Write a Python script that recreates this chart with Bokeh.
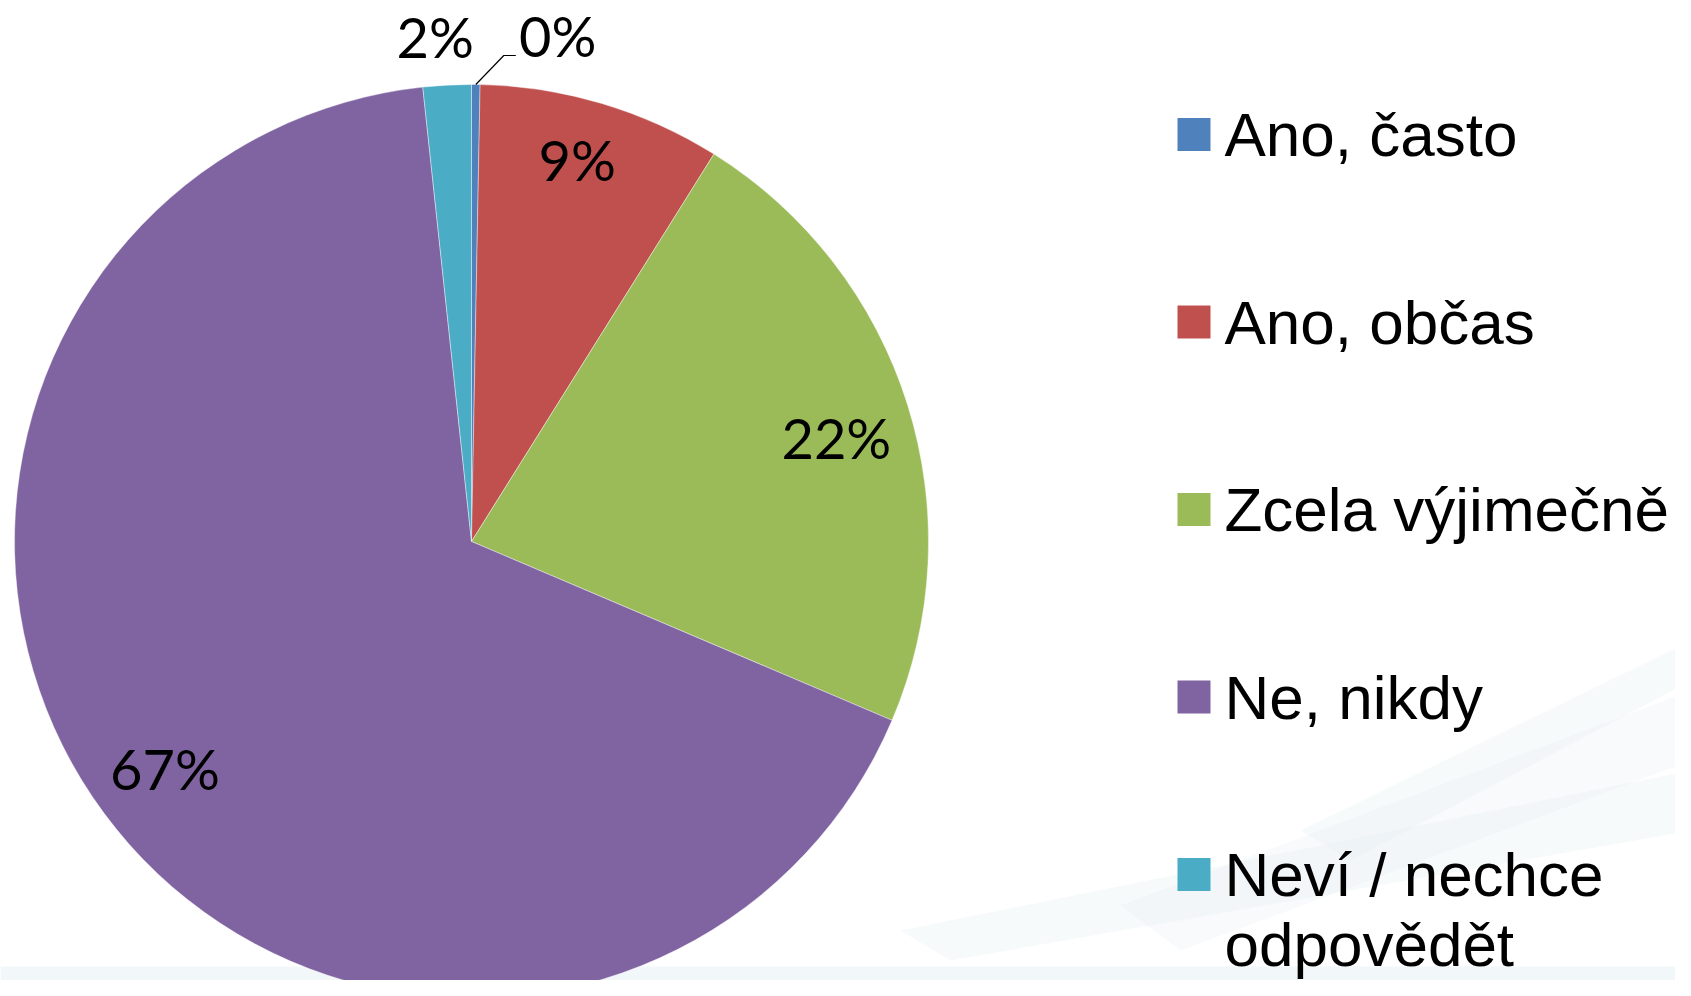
import math
from bokeh.plotting import figure
from bokeh.models import Range1d
from bokeh.core.properties import value
from bokeh.embed import file_html
from bokeh.resources import INLINE

# ---- data ----
categories = ["Ano, často", "Ano, občas", "Zcela výjimečně", "Ne, nikdy", "Neví / nechce\nodpovědět"]
shares = [0.3, 8.6, 22.5, 66.9, 1.7]
pct_labels = ["0%", "9%", "22%", "67%", "2%"]
colors = ["#4F81BD", "#C0504D", "#9BBB59", "#8064A2", "#4BACC6"]

# ---- layout (screen px; data y = 996 - screen y) ----
W, H = 1675, 980
SH = 996
def Y(sy):
    return SH - sy

p = figure(width=W, height=H, x_range=Range1d(0, W), y_range=Range1d(SH - H, SH),
           output_backend="svg", toolbar_location=None, min_border=0)
p.axis.visible = False
p.grid.visible = False
p.outline_line_color = None
p.background_fill_color = "white"
p.border_fill_color = "white"

# faint background decoration (bottom right swooshes and bottom band)
p.patch([1120, 1691, 1691, 1180], [Y(905), Y(690), Y(760), Y(950)], color="#e2ebf0", alpha=0.25, line_color=None)
p.patch([1300, 1691, 1691, 1350], [Y(830), Y(640), Y(680), Y(860)], color="#e6eef2", alpha=0.3, line_color=None)
p.patch([900, 1691, 1691, 950], [Y(930), Y(770), Y(830), Y(960)], color="#e0eaef", alpha=0.25, line_color=None)
p.quad(left=0, right=W, bottom=Y(996), top=Y(966), color="#eaf1f5", alpha=0.6, line_color=None)

# ---- pie ----
cx, cy, R = 471, Y(541), 457
total = sum(shares)
cum = 0.0
starts, ends, mids = [], [], []
for s in shares:
    a0 = math.pi / 2 - 2 * math.pi * cum / total
    a1 = math.pi / 2 - 2 * math.pi * (cum + s) / total
    starts.append(a1)
    ends.append(a0)
    mids.append(math.pi / 2 - 2 * math.pi * (cum + s / 2) / total)
    cum += s

p.wedge(x=[cx] * len(shares), y=[cy] * len(shares), radius=R,
        start_angle=starts, end_angle=ends, direction="anticlock",
        fill_color=colors, line_color="white", line_width=1, line_alpha=0.4)

# ---- data labels (y given at the visual centre of the digits) ----
lab_font = value("Lato")
lab_size = "56px"
inside_r = [None, 0.865, 0.83, 0.835, None]
nudge = [(0, 0), (-7, -3), (3, 10), (0, 0), (0, 0)]
lx, ly, lt = [], [], []
for i, t in enumerate(pct_labels):
    if inside_r[i] is None:
        continue
    r = inside_r[i] * R
    lx.append(cx + r * math.cos(mids[i]) + nudge[i][0])
    ly.append(cy + r * math.sin(mids[i]) - nudge[i][1])
    lt.append(t)

# outside labels: 0% with leader line, 2%
ax0 = cx + R * math.cos(mids[0])
ay0 = cy + R * math.sin(mids[0])
p.line([ax0, ax0 + 28, ax0 + 40], [ay0, ay0 + 29, ay0 + 29], line_color="black", line_width=1.2)
lx.append(ax0 + 82); ly.append(ay0 + 49); lt.append(pct_labels[0])
ax4 = cx + R * math.cos(mids[4])
ay4 = cy + R * math.sin(mids[4])
lx.append(ax4 - 12); ly.append(ay4 + 49); lt.append(pct_labels[4])

p.text(x=lx, y=ly, text=lt, text_font=lab_font, text_font_size=lab_size,
       text_align="center", text_baseline="alphabetic", text_color="black")

# ---- legend ----
leg_x_sq = 1193.5
leg_x_txt = 1224
row_centers = [134, 321.5, 509, 696.5, 874]
line_gap = 70
sq_x, sq_y = [], []
tx, ty, tt = [], [], []
for i, c in enumerate(categories):
    rc = row_centers[i]
    sq_x.append(leg_x_sq)
    sq_y.append(Y(rc))
    for k, line in enumerate(c.split("\n")):
        tx.append(leg_x_txt)
        ty.append(Y(rc + k * line_gap))
        tt.append(line)
p.rect(x=sq_x, y=sq_y, width=33, height=33, fill_color=colors, line_color=None)
p.text(x=tx, y=ty, text=tt, text_font=value("Liberation Sans"), text_font_size="62px",
       text_align="left", text_baseline="alphabetic", text_color="black")

open("out.html", "w").write(file_html(p, INLINE))
